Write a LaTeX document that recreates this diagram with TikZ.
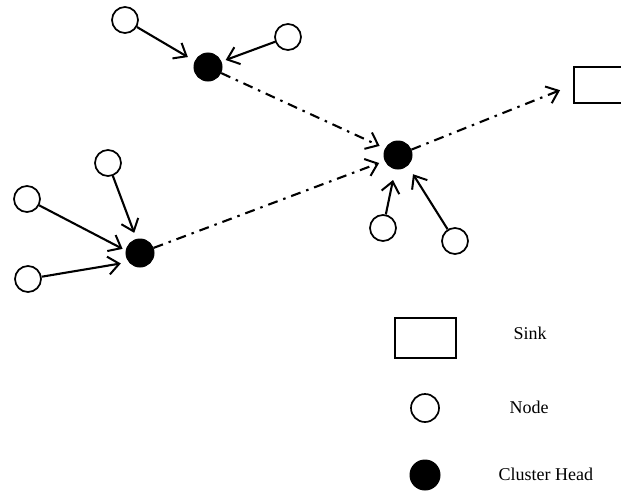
\documentclass[tikz,border=0pt]{standalone}
\usepackage{fontspec}
\setmainfont{Liberation Serif}
\usetikzlibrary{arrows.meta}
\begin{document}
\begin{tikzpicture}[x=1pt,y=-1pt,
  sensor/.style={circle,draw,line width=1.7pt,fill=white,minimum size=26pt,inner sep=0pt},
  head/.style={circle,fill=black,draw=black,line width=1pt,minimum size=28pt,inner sep=0pt},
  sinkbox/.style={rectangle,draw,line width=1.9pt,minimum width=60pt,minimum height=36pt,inner sep=0pt},
  tip/.style={-{Straight Barb[length=11pt,width=18pt,line width=2pt]}},
  link/.style={tip,line width=2.1pt},
  relay/.style={tip,line width=2.1pt,dash pattern=on 10pt off 6pt on 2.5pt off 6pt},
  legend/.style={font=\fontsize{18}{20}\selectfont,anchor=west}]
\clip (0,0) rectangle (621,490);

% cluster heads
\node[head] (ch1) at (208,67) {};
\node[head] (ch2) at (398,155) {};
\node[head] (ch3) at (140,253) {};

% member nodes
\node[sensor] (a1) at (125,20) {};
\node[sensor] (a2) at (288,37) {};
\node[sensor] (b1) at (383,228) {};
\node[sensor] (b2) at (455,241) {};
\node[sensor] (c1) at (108,163) {};
\node[sensor] (c2) at (27,199) {};
\node[sensor] (c3) at (28,279) {};

% sink
\node[sinkbox] (sink) at (604,85) {};

% members to their cluster heads
\draw[link,shorten >=8pt] (a1) -- (ch1.156);
\draw[link,shorten >=4.5pt] (a2) -- (ch1.22);
\draw[link,shorten >=11pt] (b1) -- (ch2.259);
\draw[link,shorten >=10pt] (b2) -- (ch2.312);
\draw[link,shorten >=6.5pt] (c1) -- (ch3.104);
\draw[link,shorten >=3.5pt] (c2) -- (ch3.170);
\draw[link,shorten >=8pt] (c3) -- (ch3.219);

% cluster heads towards the sink
\draw[relay,shorten >=6pt] (ch1) -- (ch2.153);
\draw[relay,shorten >=6pt] (ch3) -- (ch2.204);
\draw[relay,shorten >=14pt] (ch2) -- (sink.west);

% legend
\node[sinkbox,minimum width=61pt,minimum height=40pt] (ksink) at (425.5,338) {};
\node[sensor,minimum size=28pt] (knode) at (425,408) {};
\node[head,minimum size=30pt] (khead) at (425,475) {};
\node[legend] (tsink) at (510,333) {Sink};
\node[legend] (tnode) at (506,407) {Node};
\node[legend] (thead) at (495,474) {Cluster Head};
\end{tikzpicture}
\end{document}
